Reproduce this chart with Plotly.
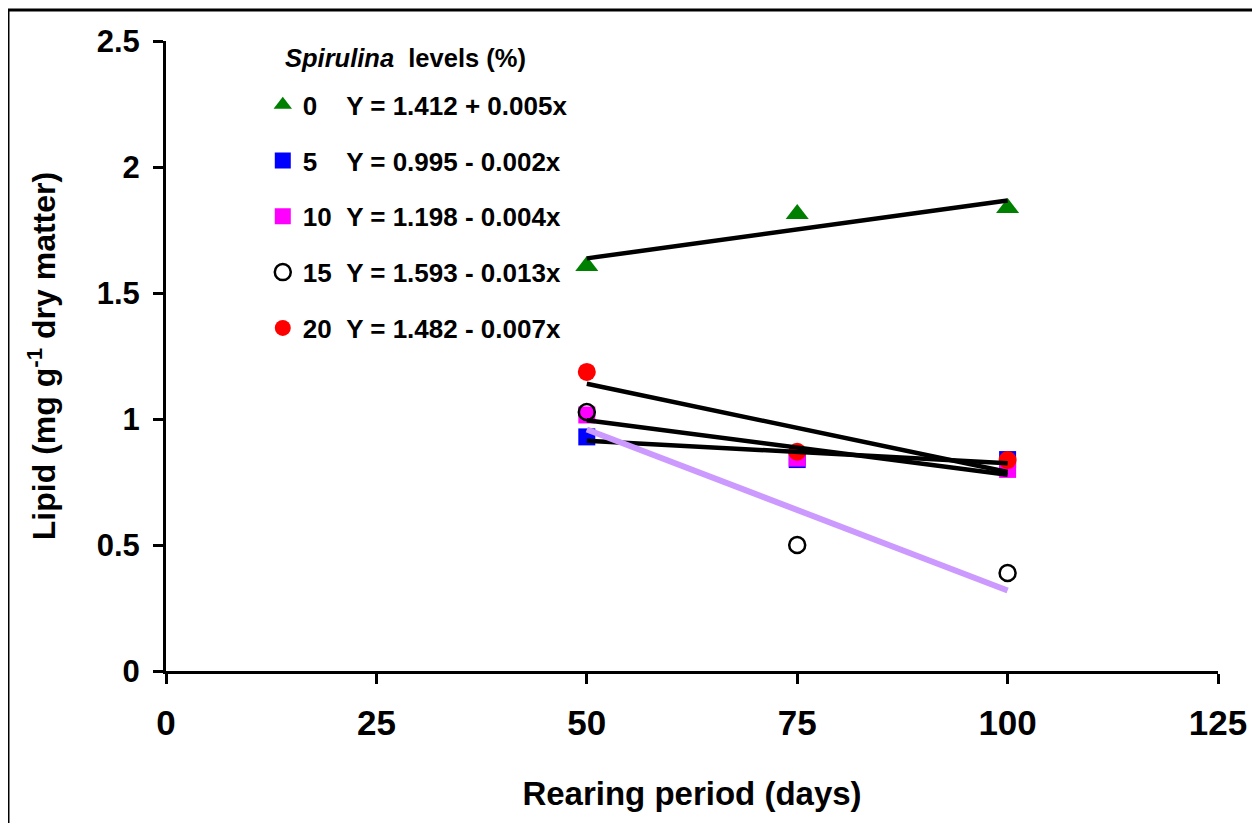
import numpy as np
import plotly.graph_objects as go

# ---- data ----
days = [50, 75, 100]
levels = ["0", "5", "10", "15", "20"]
lipid_0 = [1.607, 1.813, 1.837]
lipid_5 = [0.929, 0.839, 0.839]
lipid_10 = [1.016, 0.845, 0.800]
lipid_15 = [1.028, 0.500, 0.389]
lipid_20 = [1.187, 0.870, 0.837]
equations = [
    "Y = 1.412 + 0.005x",
    "Y = 0.995 - 0.002x",
    "Y = 1.198 - 0.004x",
    "Y = 1.593 - 0.013x",
    "Y = 1.482 - 0.007x",
]
x_ticks = [0, 25, 50, 75, 100, 125]
y_ticks = [0, 0.5, 1, 1.5, 2, 2.5]

series = [lipid_0, lipid_5, lipid_10, lipid_15, lipid_20]
symbols = ["triangle-up", "square", "square", "circle-open", "circle"]
colors = ["#008000", "#0000FF", "#FF00FF", "#000000", "#FF0000"]
sizes = [20, 17, 17, 16, 18]
trend_colors = ["#000000", "#000000", "#000000", "#CC99FF", "#000000"]
trend_widths = [4.5, 4.5, 4.5, 6, 4.5]

NB = "\u00a0"
FONT = "Liberation Sans, Arial, sans-serif"

# page offset of the plot (body margin of 8px)
L, T, PW, PH = 158, 33, 1052, 630

fig = go.Figure()

for i, (lvl, vals) in enumerate(zip(levels, series)):
    pad = NB * (4 if len(lvl) == 1 else 2)
    fig.add_trace(go.Scatter(
        x=days, y=vals, mode="markers",
        name=f"{lvl}{pad}{equations[i]}",
        legendgroup=lvl,
        marker=dict(symbol=symbols[i], color=colors[i], size=sizes[i],
                    line=dict(width=2.5 if symbols[i] == "circle-open" else 0,
                              color=colors[i])),
    ))

for i, vals in enumerate(series):
    slope, intercept = np.polyfit(days, vals, 1)
    xs = [days[0], days[-1]]
    ys = [intercept + slope * d for d in xs]
    fig.add_trace(go.Scatter(
        x=xs, y=ys, mode="lines", showlegend=False,
        line=dict(color=trend_colors[i], width=trend_widths[i]),
        hoverinfo="skip",
    ))

axis_common = dict(
    showgrid=False, zeroline=False, showline=True, linecolor="black",
    linewidth=3, ticks="outside", ticklen=10, tickwidth=3, tickcolor="black",
)

fig.update_layout(
    width=1260, height=823,
    margin=dict(l=L, r=1260 - L - PW, t=T, b=823 - T - PH),
    paper_bgcolor="white", plot_bgcolor="white",
    font=dict(family=FONT, color="black"),
    xaxis=dict(range=[0, 125], tickvals=x_ticks, ticklabelstandoff=9,
               tickfont=dict(family=FONT, size=35, color="black", weight="bold"),
               title=dict(text="Rearing period (days)", standoff=41,
                          font=dict(family=FONT, size=33, color="black", weight="bold")),
               **axis_common),
    yaxis=dict(range=[0, 2.5], tickvals=y_ticks, ticklabelstandoff=7,
               tickfont=dict(family=FONT, size=31, color="black", weight="bold"),
               title=dict(text="Lipid (mg g<sup>-1</sup> dry matter)", standoff=32,
                          font=dict(family=FONT, size=32, color="black", weight="bold")),
               **axis_common),
    legend=dict(
        x=0.092, y=0.936, xanchor="left", yanchor="top",
        bgcolor="rgba(0,0,0,0)", borderwidth=0,
        tracegroupgap=19,
        font=dict(family=FONT, size=26, color="black", weight="bold"),
        itemsizing="trace",
    ),
    showlegend=True,
)

# legend heading
fig.add_annotation(
    xref="paper", yref="paper", x=(275 - L) / PW, y=(T + PH - 50) / PH,
    xanchor="left", yanchor="middle", showarrow=False,
    text="<i>Spirulina</i>" + NB + " levels (%)",
    font=dict(family=FONT, size=25.5, color="black", weight="bold"),
)

# outer frame of the figure
fig.add_shape(type="rect", xref="paper", yref="paper",
              x0=(0 - L) / PW, x1=(1249 - L) / PW,
              y0=(T + PH - 840) / PH, y1=(T + PH - 2) / PH,
              line=dict(color="black", width=3), layer="below")

fig.write_html("out.html")
